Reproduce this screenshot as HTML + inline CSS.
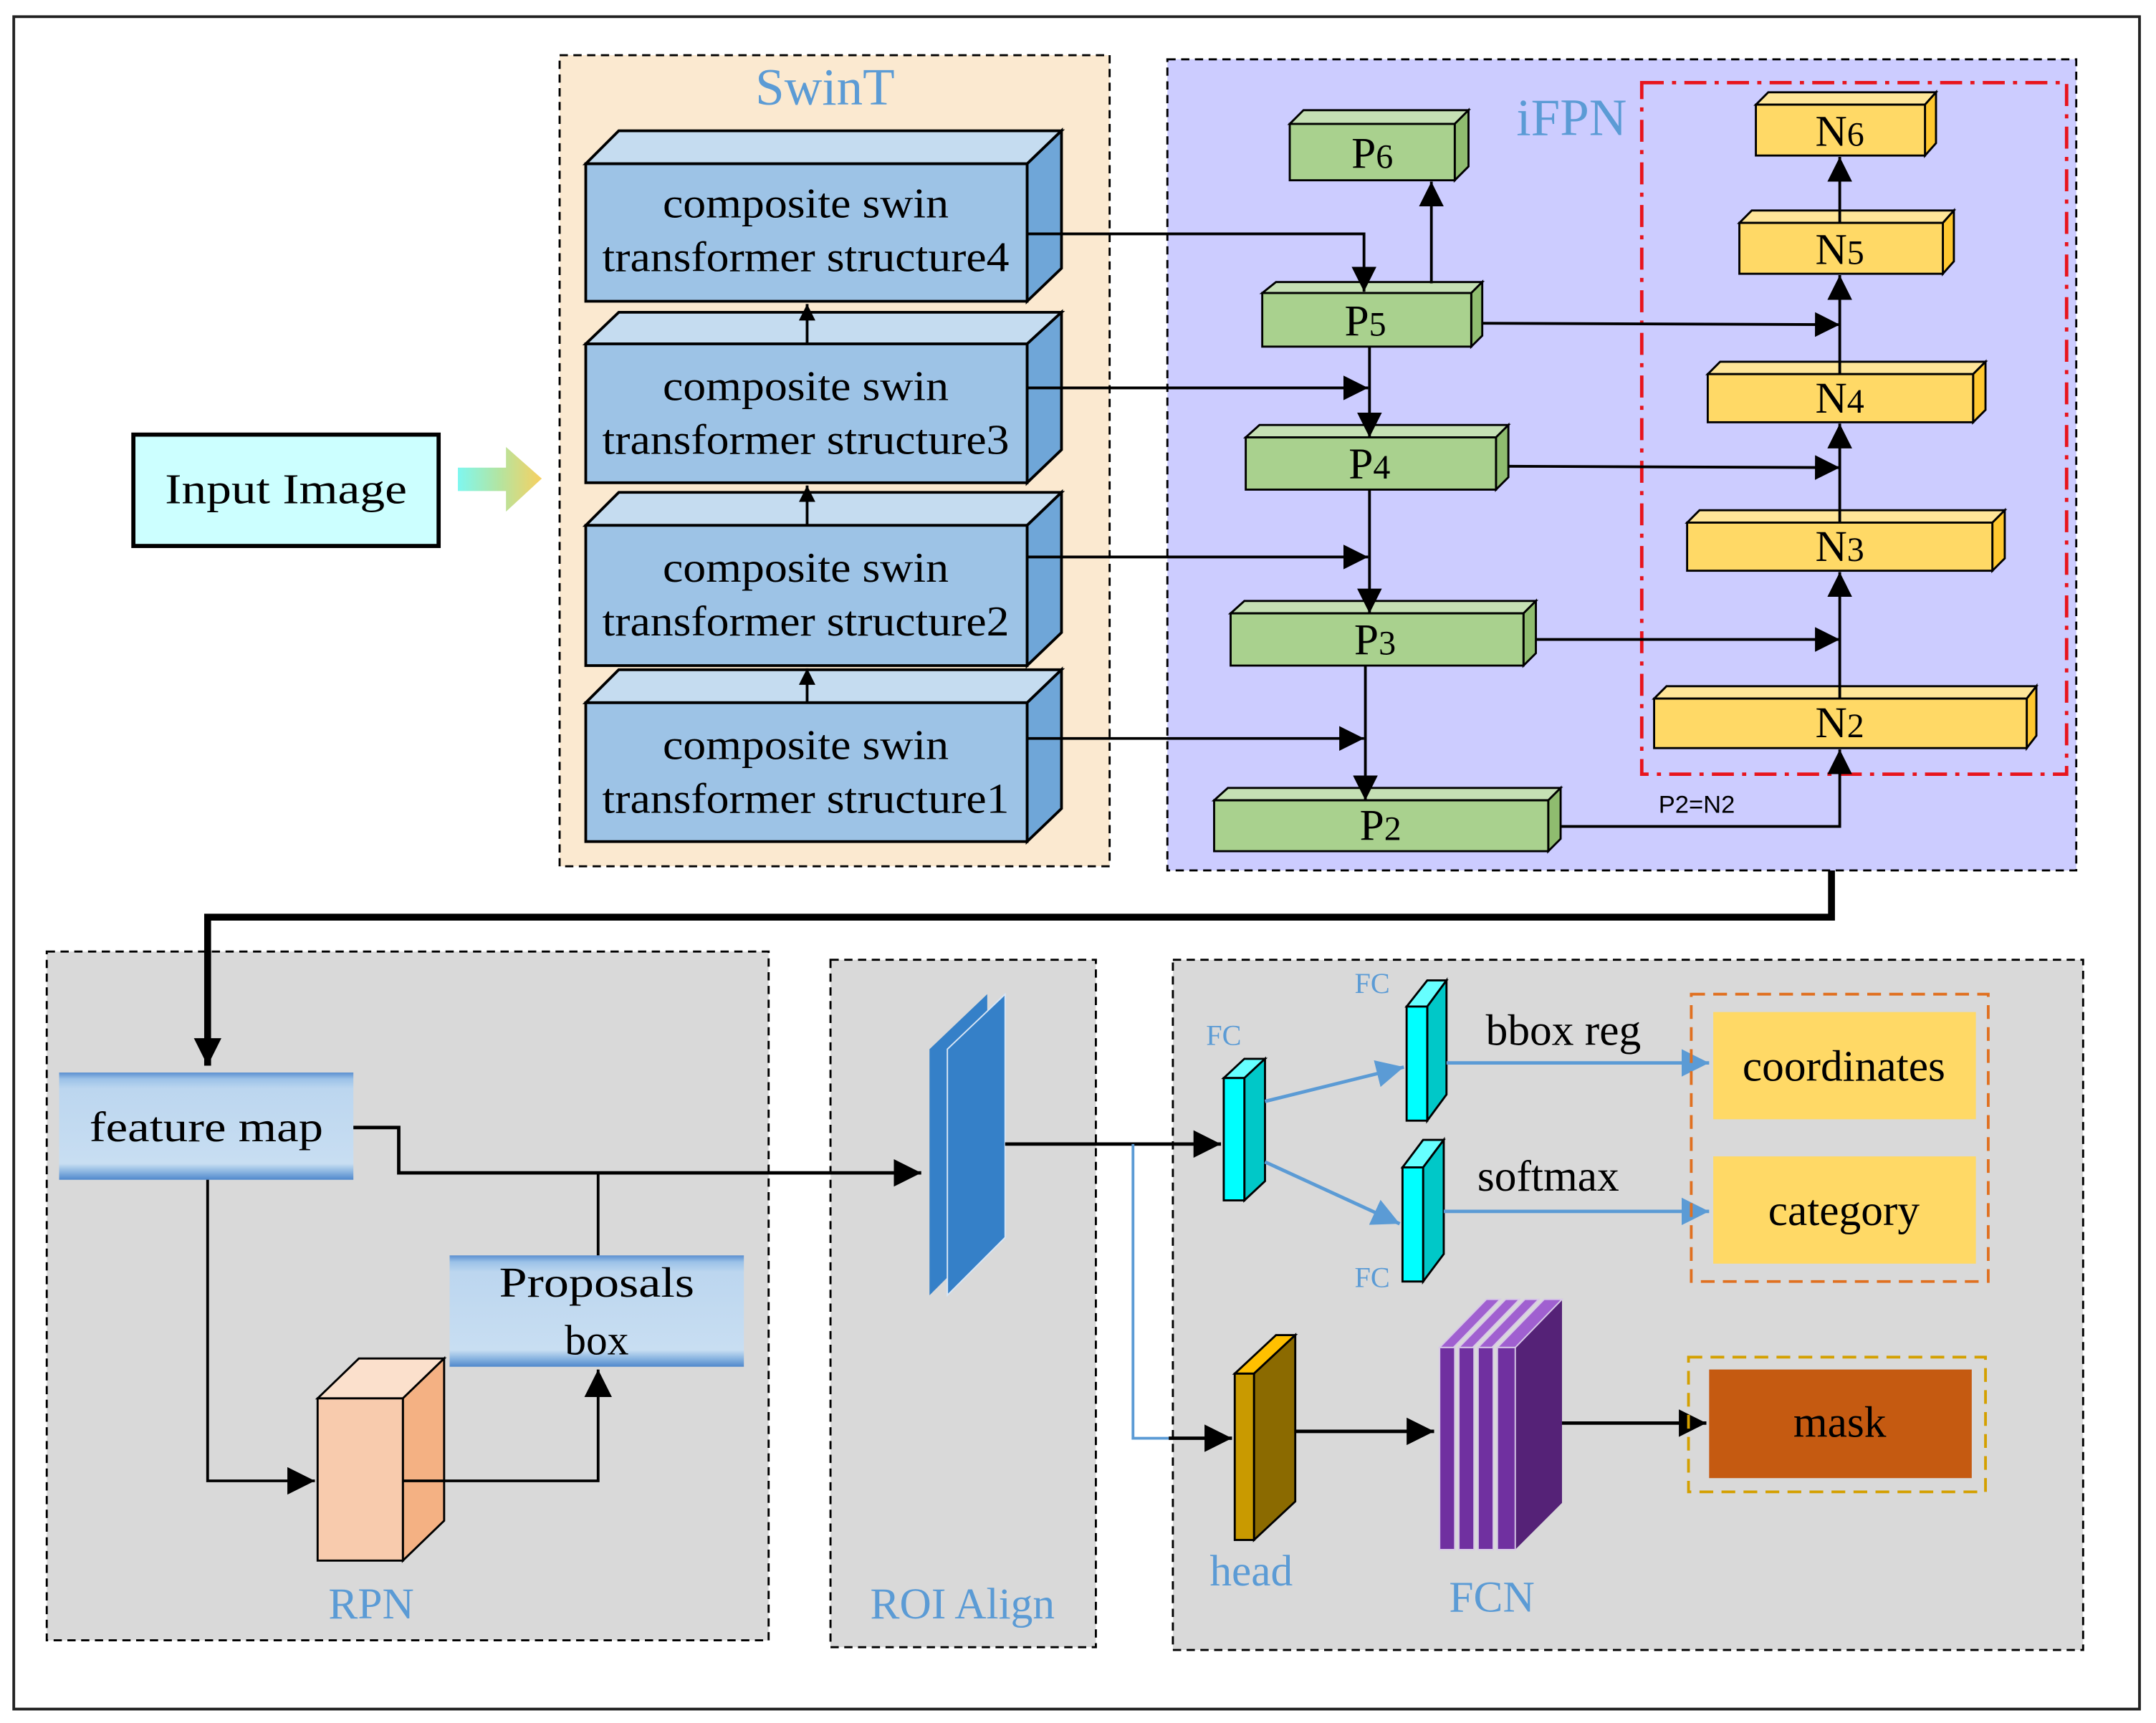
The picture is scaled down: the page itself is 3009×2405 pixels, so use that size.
<!DOCTYPE html>
<html><head><meta charset="utf-8"><style>
html,body{margin:0;padding:0;background:#fff;}
svg{display:block;}
text{font-family:"Liberation Serif",serif;}
</style></head><body>
<svg width="3009" height="2405" viewBox="0 0 1568 1253" xmlns="http://www.w3.org/2000/svg">
<defs>
<marker id="ah" viewBox="0 0 10 10" refX="10" refY="5" markerWidth="12" markerHeight="14" orient="auto" markerUnits="userSpaceOnUse"><path d="M0,0 L10,5 L0,10z" fill="#000"/></marker>
<marker id="ahb" viewBox="0 0 10 10" refX="10" refY="5" markerWidth="18" markerHeight="18" orient="auto" markerUnits="userSpaceOnUse"><path d="M0,0 L10,5 L0,10z" fill="#000"/></marker>
<marker id="ahm" viewBox="0 0 10 10" refX="10" refY="5" markerWidth="20" markerHeight="20" orient="auto" markerUnits="userSpaceOnUse"><path d="M0,0 L10,5 L0,10z" fill="#000"/></marker>
<marker id="ahblue" viewBox="0 0 10 10" refX="10" refY="5" markerWidth="20" markerHeight="20" orient="auto" markerUnits="userSpaceOnUse"><path d="M0,0 L10,5 L0,10z" fill="#5b9bd5"/></marker>
<linearGradient id="arr" x1="0" x2="1" y1="0" y2="0"><stop offset="0" stop-color="#7ff7f0"/><stop offset="0.5" stop-color="#b4e4a0"/><stop offset="1" stop-color="#f8d060"/></linearGradient>
<linearGradient id="fm" x1="0" x2="0" y1="0" y2="1"><stop offset="0" stop-color="#5b8fd0"/><stop offset="0.06" stop-color="#9cc2e8"/><stop offset="0.15" stop-color="#bcd6ef"/><stop offset="0.85" stop-color="#c8def2"/><stop offset="0.92" stop-color="#8fb8e2"/><stop offset="1" stop-color="#4f88cc"/></linearGradient>
</defs>
<rect x="0" y="0" width="1568" height="1253" fill="#fff"/>
<rect x="10" y="12" width="1546" height="1231" fill="none" stroke="#222" stroke-width="2"/>

<!-- SwinT -->
<rect x="407" y="40" width="400" height="590" fill="#fbe9d0" stroke="#000" stroke-width="1.5" stroke-dasharray="6,4"/>
<text x="600" y="76" font-size="38" fill="#5b9bd5" text-anchor="middle">SwinT</text>
<g stroke="#000" stroke-width="2">
<g>
<polygon points="426,119 450,95 772,95 747,119" fill="#c5dcf0"/>
<polygon points="747,119 772,95 772,195 747,219" fill="#6fa6d8"/>
<rect x="426" y="119" width="321" height="100" fill="#9dc3e6"/>
</g>
<g>
<polygon points="426,250 450,227 772,227 747,250" fill="#c5dcf0"/>
<polygon points="747,250 772,227 772,327 747,351" fill="#6fa6d8"/>
<rect x="426" y="250" width="321" height="101" fill="#9dc3e6"/>
</g>
<g>
<polygon points="426,382 450,358 772,358 747,382" fill="#c5dcf0"/>
<polygon points="747,382 772,358 772,460 747,484" fill="#6fa6d8"/>
<rect x="426" y="382" width="321" height="102" fill="#9dc3e6"/>
</g>
<g>
<polygon points="426,511 450,487 772,487 747,511" fill="#c5dcf0"/>
<polygon points="747,511 772,487 772,588 747,612" fill="#6fa6d8"/>
<rect x="426" y="511" width="321" height="101" fill="#9dc3e6"/>
</g>
</g>
<g font-size="31" text-anchor="middle" fill="#000">
<text x="586" y="158" textLength="208" lengthAdjust="spacingAndGlyphs">composite swin</text><text x="586" y="197" textLength="296" lengthAdjust="spacingAndGlyphs">transformer structure4</text>
<text x="586" y="291" textLength="208" lengthAdjust="spacingAndGlyphs">composite swin</text><text x="586" y="330" textLength="296" lengthAdjust="spacingAndGlyphs">transformer structure3</text>
<text x="586" y="423" textLength="208" lengthAdjust="spacingAndGlyphs">composite swin</text><text x="586" y="462" textLength="296" lengthAdjust="spacingAndGlyphs">transformer structure2</text>
<text x="586" y="552" textLength="208" lengthAdjust="spacingAndGlyphs">composite swin</text><text x="586" y="591" textLength="296" lengthAdjust="spacingAndGlyphs">transformer structure1</text>
</g>
<g stroke="#000" stroke-width="2" marker-end="url(#ah)">
<line x1="587" y1="250" x2="587" y2="221"/>
<line x1="587" y1="382" x2="587" y2="353"/>
<line x1="587" y1="511" x2="587" y2="486"/>
</g>

<!-- Input image -->
<rect x="97" y="316" width="222" height="81" fill="#ccffff" stroke="#000" stroke-width="3"/>
<text x="208" y="366" font-size="31" text-anchor="middle" textLength="176" lengthAdjust="spacingAndGlyphs">Input Image</text>
<polygon points="333,340 368,340 368,325 394,348 368,372 368,357 333,357" fill="url(#arr)"/>

<!-- iFPN -->
<rect x="849" y="43" width="661" height="590" fill="#ccccff" stroke="#000" stroke-width="1.5" stroke-dasharray="6,4"/>
<text x="1143" y="98" font-size="38" fill="#5b9bd5" text-anchor="middle">iFPN</text>
<rect x="1194" y="60" width="309" height="503" fill="none" stroke="#e8141c" stroke-width="2.5" stroke-dasharray="16,6,3,6"/>

<g stroke="#000" stroke-width="1.5">
<polygon points="938,90 948,80 1068,80 1058,90" fill="#c5e0b4"/><polygon points="1058,90 1068,80 1068,121 1058,131" fill="#8fbc6f"/><rect x="938" y="90" width="120" height="41" fill="#a9d18e"/>
<polygon points="918,213 928,205 1078,205 1070,213" fill="#c5e0b4"/><polygon points="1070,213 1078,205 1078,244 1070,252" fill="#8fbc6f"/><rect x="918" y="213" width="152" height="39" fill="#a9d18e"/>
<polygon points="906,318 916,309 1097,309 1088,318" fill="#c5e0b4"/><polygon points="1088,318 1097,309 1097,347 1088,356" fill="#8fbc6f"/><rect x="906" y="318" width="182" height="38" fill="#a9d18e"/>
<polygon points="895,446 905,437 1117,437 1108,446" fill="#c5e0b4"/><polygon points="1108,446 1117,437 1117,475 1108,484" fill="#8fbc6f"/><rect x="895" y="446" width="213" height="38" fill="#a9d18e"/>
<polygon points="883,582 893,573 1135,573 1126,582" fill="#c5e0b4"/><polygon points="1126,582 1135,573 1135,610 1126,619" fill="#8fbc6f"/><rect x="883" y="582" width="243" height="37" fill="#a9d18e"/>
<polygon points="1277,76 1286,67 1408,67 1400,76" fill="#ffe699"/><polygon points="1400,76 1408,67 1408,104 1400,113" fill="#ffc830"/><rect x="1277" y="76" width="123" height="37" fill="#ffd966"/>
<polygon points="1265,162 1274,153 1421,153 1413,162" fill="#ffe699"/><polygon points="1413,162 1421,153 1421,190 1413,199" fill="#ffc830"/><rect x="1265" y="162" width="148" height="37" fill="#ffd966"/>
<polygon points="1242,272 1251,263 1444,263 1435,272" fill="#ffe699"/><polygon points="1435,272 1444,263 1444,298 1435,307" fill="#ffc830"/><rect x="1242" y="272" width="193" height="35" fill="#ffd966"/>
<polygon points="1227,380 1236,371 1458,371 1449,380" fill="#ffe699"/><polygon points="1449,380 1458,371 1458,406 1449,415" fill="#ffc830"/><rect x="1227" y="380" width="222" height="35" fill="#ffd966"/>
<polygon points="1203,508 1212,499 1481,499 1474,508" fill="#ffe699"/><polygon points="1474,508 1481,499 1481,535 1474,544" fill="#ffc830"/><rect x="1203" y="508" width="271" height="36" fill="#ffd966"/>
</g>
<g font-size="32" text-anchor="middle">
<text x="998" y="122">P<tspan font-size="25">6</tspan></text>
<text x="993" y="244">P<tspan font-size="25">5</tspan></text>
<text x="996" y="348">P<tspan font-size="25">4</tspan></text>
<text x="1000" y="476">P<tspan font-size="25">3</tspan></text>
<text x="1004" y="611">P<tspan font-size="25">2</tspan></text>
<text x="1338" y="106">N<tspan font-size="25">6</tspan></text>
<text x="1338" y="192">N<tspan font-size="25">5</tspan></text>
<text x="1338" y="300">N<tspan font-size="25">4</tspan></text>
<text x="1338" y="408">N<tspan font-size="25">3</tspan></text>
<text x="1338" y="536">N<tspan font-size="25">2</tspan></text>
</g>
<text x="1234" y="591" font-size="18" text-anchor="middle" style="font-family:'Liberation Sans',sans-serif">P2=N2</text>

<g stroke="#000" stroke-width="2" fill="none" marker-end="url(#ahb)">
<polyline points="747,170 992,170 992,212"/>
<line x1="747" y1="282" x2="995" y2="282"/>
<line x1="747" y1="405" x2="995" y2="405"/>
<line x1="747" y1="537" x2="992" y2="537"/>
<line x1="996" y1="252" x2="996" y2="318"/>
<line x1="996" y1="356" x2="996" y2="446"/>
<line x1="993" y1="484" x2="993" y2="582"/>
<line x1="1041" y1="206" x2="1041" y2="132"/>
<line x1="1078" y1="235" x2="1338" y2="236"/>
<line x1="1097" y1="339" x2="1338" y2="340"/>
<line x1="1117" y1="465" x2="1338" y2="465"/>
<polyline points="1135,601 1338,601 1338,545"/>
<line x1="1338" y1="508" x2="1338" y2="416"/>
<line x1="1338" y1="380" x2="1338" y2="308"/>
<line x1="1338" y1="272" x2="1338" y2="200"/>
<line x1="1338" y1="162" x2="1338" y2="114"/>
</g>

<!-- bottom boxes -->
<rect x="34" y="692" width="525" height="501" fill="#d9d9d9" stroke="#000" stroke-width="1.5" stroke-dasharray="6,4"/>
<rect x="604" y="698" width="193" height="500" fill="#d9d9d9" stroke="#000" stroke-width="1.5" stroke-dasharray="6,4"/>
<rect x="853" y="698" width="662" height="502" fill="#d9d9d9" stroke="#000" stroke-width="1.5" stroke-dasharray="6,4"/>

<!-- thick connector -->
<polyline points="1332,633 1332,667 151,667 151,775" fill="none" stroke="#000" stroke-width="5" marker-end="url(#ahm)"/>

<rect x="43" y="780" width="214" height="78" fill="url(#fm)"/>
<text x="150" y="830" font-size="31" text-anchor="middle" textLength="170" lengthAdjust="spacingAndGlyphs">feature map</text>
<rect x="327" y="913" width="214" height="81" fill="url(#fm)"/>
<text x="434" y="943" font-size="31" text-anchor="middle" textLength="142" lengthAdjust="spacingAndGlyphs">Proposals</text>
<text x="434" y="985" font-size="31" text-anchor="middle">box</text>

<g stroke="#000" stroke-width="1.5">
<polygon points="231,1017 261,988 323,988 293,1017" fill="#fbe0cc"/>
<polygon points="293,1017 323,988 323,1106 293,1135" fill="#f4b183"/>
<rect x="231" y="1017" width="62" height="118" fill="#f8cbad"/>
</g>
<text x="270" y="1177" font-size="32" fill="#5b9bd5" text-anchor="middle">RPN</text>

<g stroke="#000" stroke-width="2" fill="none">
<polyline points="257,820 290,820 290,853 670,853" stroke-width="2.5" marker-end="url(#ahm)"/>
<line x1="435" y1="853" x2="435" y2="913"/>
<polyline points="151,858 151,1077 229,1077" marker-end="url(#ahm)"/>
<polyline points="293,1077 435,1077 435,996" marker-end="url(#ahm)"/>
</g>

<!-- ROI -->
<polygon points="676,763 718,723 718,900 676,942" fill="#3580c8"/>
<polygon points="689,763 731,723 731,900 689,942" fill="#3580c8" stroke="#d9e6f5" stroke-width="1"/>
<text x="700" y="1177" font-size="32" fill="#5b9bd5" text-anchor="middle">ROI Align</text>

<line x1="731" y1="832" x2="888" y2="832" stroke="#000" stroke-width="2.5" marker-end="url(#ahm)"/>
<polyline points="824,832 824,1046 850,1046" fill="none" stroke="#5b9bd5" stroke-width="2"/>
<line x1="850" y1="1046" x2="896" y2="1046" stroke="#000" stroke-width="2.5" marker-end="url(#ahm)"/>

<!-- FC -->
<g stroke="#000" stroke-width="1.5">
<polygon points="890,784 905,770 920,770 905,784" fill="#66ffff"/><polygon points="905,784 920,770 920,859 905,873" fill="#00c8c8"/><rect x="890" y="784" width="15" height="89" fill="#00ffff"/>
<polygon points="1023,732 1038,713 1052,713 1038,732" fill="#66ffff"/><polygon points="1038,732 1052,713 1052,796 1038,815" fill="#00c8c8"/><rect x="1023" y="732" width="15" height="83" fill="#00ffff"/>
<polygon points="1020,849 1035,829 1050,829 1035,849" fill="#66ffff"/><polygon points="1035,849 1050,829 1050,912 1035,932" fill="#00c8c8"/><rect x="1020" y="849" width="15" height="83" fill="#00ffff"/>
</g>
<g font-size="21" fill="#5b9bd5" text-anchor="middle">
<text x="890" y="760">FC</text><text x="998" y="722">FC</text><text x="998" y="936">FC</text>
</g>
<g stroke="#5b9bd5" stroke-width="2.5" fill="none" marker-end="url(#ahblue)">
<line x1="920" y1="801" x2="1021" y2="776"/>
<line x1="920" y1="845" x2="1018" y2="890"/>
<line x1="1052" y1="773" x2="1243" y2="773"/>
<line x1="1050" y1="881" x2="1243" y2="881"/>
</g>
<text x="1137" y="760" font-size="32" text-anchor="middle">bbox reg</text>
<text x="1126" y="866" font-size="32" text-anchor="middle">softmax</text>

<rect x="1230" y="723" width="216" height="209" fill="none" stroke="#e07020" stroke-width="2" stroke-dasharray="10,6"/>
<rect x="1246" y="736" width="191" height="78" fill="#ffd966"/>
<rect x="1246" y="841" width="191" height="78" fill="#ffd966"/>
<text x="1341" y="786" font-size="32" text-anchor="middle">coordinates</text>
<text x="1341" y="891" font-size="32" text-anchor="middle">category</text>

<!-- head -->
<g stroke="#000" stroke-width="1.5">
<polygon points="898,999 928,971 942,971 912,999" fill="#ffc000"/>
<polygon points="912,999 942,971 942,1092 912,1120" fill="#8b6a00"/>
<rect x="898" y="999" width="14" height="121" fill="#c99a00"/>
</g>
<text x="910" y="1153" font-size="32" fill="#5b9bd5" text-anchor="middle">head</text>
<line x1="942" y1="1041" x2="1043" y2="1041" stroke="#000" stroke-width="2.5" marker-end="url(#ahm)"/>

<!-- FCN -->
<polygon points="1102,980 1136,945 1136,1093 1102,1127" fill="#552277"/>
<g fill="#7030a0" stroke="#d8c8e8" stroke-width="1">
<polygon points="1047,980 1081,945 1091,945 1057,980" fill="#a060d0"/>
<rect x="1047" y="980" width="11" height="147"/>
<polygon points="1061,980 1095,945 1105,945 1071,980" fill="#a060d0"/>
<rect x="1061" y="980" width="11" height="147"/>
<polygon points="1075,980 1109,945 1119,945 1085,980" fill="#a060d0"/>
<rect x="1075" y="980" width="11" height="147"/>
<polygon points="1089,980 1123,945 1136,945 1102,980" fill="#a060d0"/>
<rect x="1089" y="980" width="13" height="147"/>
</g>
<text x="1085" y="1172" font-size="32" fill="#5b9bd5" text-anchor="middle">FCN</text>
<line x1="1136" y1="1035" x2="1241" y2="1035" stroke="#000" stroke-width="2.5" marker-end="url(#ahm)"/>

<rect x="1228" y="987" width="216" height="98" fill="none" stroke="#d4a000" stroke-width="2" stroke-dasharray="10,6"/>
<rect x="1243" y="996" width="191" height="79" fill="#c55a11"/>
<text x="1338" y="1045" font-size="32" text-anchor="middle">mask</text>
</svg>
</body></html>
